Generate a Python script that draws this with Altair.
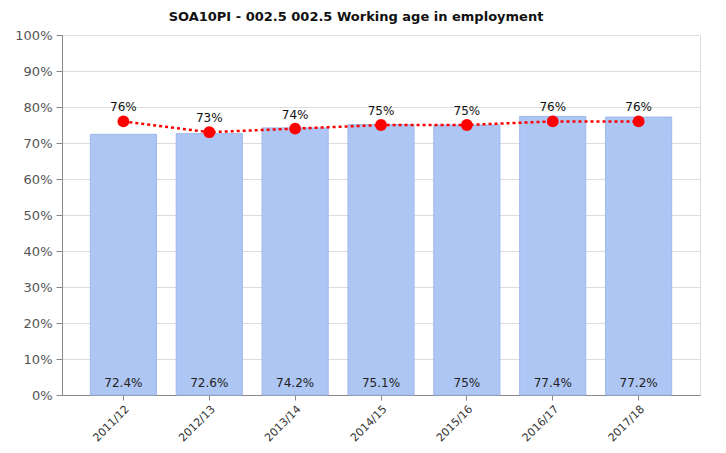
import altair as alt
import pandas as pd

years = ["2011/12", "2012/13", "2013/14", "2014/15", "2015/16", "2016/17", "2017/18"]
bar_values = [72.4, 72.6, 74.2, 75.1, 75.0, 77.4, 77.2]
bar_labels = ["72.4%", "72.6%", "74.2%", "75.1%", "75%", "77.4%", "77.2%"]
line_values = [76, 73, 74, 75, 75, 76, 76]
line_labels = ["76%", "73%", "74%", "75%", "75%", "76%", "76%"]
title_text = "SOA10PI - 002.5 002.5 Working age in employment"

df = pd.DataFrame({
    "year": years,
    "bar": bar_values,
    "barlab": bar_labels,
    "line": line_values,
    "linelab": line_labels,
})

FONT = "DejaVu Sans"

x_axis = alt.Axis(labelAngle=-45, labelFont=FONT, labelFontSize=11,
                  labelColor="#333333", domainColor="#888888",
                  tickColor="#888888", tickSize=5, labelPadding=3,
                  grid=False)
x_scale = alt.Scale(paddingInner=0.23, paddingOuter=0.33)
x = alt.X("year:N", sort=years, title=None, scale=x_scale, axis=x_axis)

y_axis = alt.Axis(values=list(range(0, 101, 10)), labelExpr="datum.value + '%'",
                  labelFont=FONT, labelFontSize=13, labelColor="#555555",
                  labelOverlap=False,
                  domainColor="#888888", tickColor="#888888", tickSize=6,
                  labelPadding=4, gridColor="#dddddd", title=None)
y_scale = alt.Scale(domain=[0, 100], nice=False)

base = alt.Chart(df)

bars = base.mark_bar(color="#aec6f4", stroke="#9db8ec", strokeWidth=1).encode(
    x=x, y=alt.Y("bar:Q", scale=y_scale, axis=y_axis)
)

bar_text = base.mark_text(font=FONT, fontSize=12, color="#222222", baseline="bottom", dy=-5).encode(
    x=x, y=alt.value(360), text="barlab:N"
)

line = base.mark_line(color="#ff0000", strokeWidth=2.5, strokeDash=[3, 3]).encode(
    x=x, y=alt.Y("line:Q", scale=y_scale, axis=y_axis)
)
points = base.mark_circle(color="#ff0000", size=140, opacity=1).encode(
    x=x, y=alt.Y("line:Q", scale=y_scale, axis=y_axis)
)
line_text = base.mark_text(font=FONT, fontSize=12, color="#111111", baseline="bottom", dy=-7).encode(
    x=x, y=alt.Y("line:Q", scale=y_scale, axis=y_axis), text="linelab:N"
)

one = pd.DataFrame({"t": [title_text]})
title_mark = alt.Chart(one).mark_text(font=FONT, fontSize=13, fontWeight="bold",
                                      color="#111111", baseline="middle").encode(
    x=alt.value(294), y=alt.value(-18), text="t:N"
)
frame_top = alt.Chart(one).mark_rule(color="#1a2a8c", strokeWidth=3).encode(
    x=alt.value(-62), x2=alt.value(664), y=alt.value(-32)
)
frame_left = alt.Chart(one).mark_rule(color="#cccccc", strokeWidth=2).encode(
    x=alt.value(-56), y=alt.value(-30), y2=alt.value(420)
)

chart = alt.layer(frame_top, frame_left, bars, bar_text, line, points, line_text, title_mark).properties(
    width=638, height=360,
    autosize="none",
    padding={"left": 54, "top": 27, "right": 18, "bottom": 50},
).configure_view(stroke=None).configure(background="white")

chart.save("out.html", embed_options={"renderer": "svg", "actions": False})
